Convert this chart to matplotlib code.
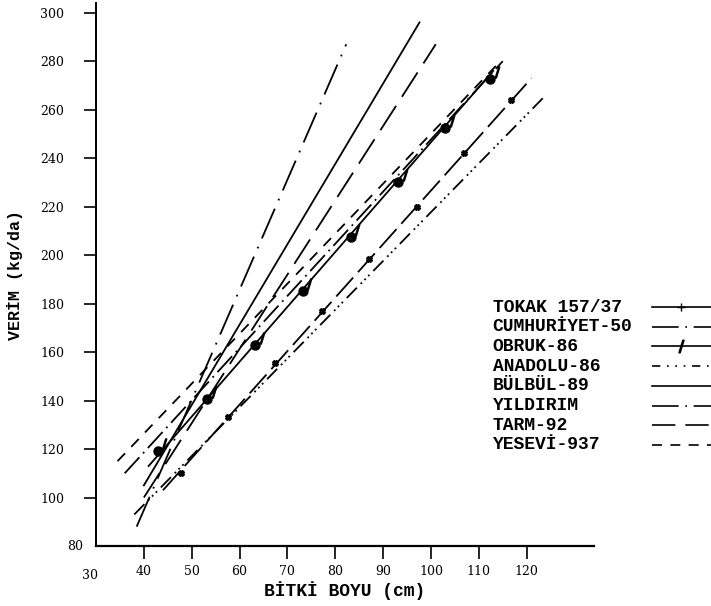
import numpy as np
import matplotlib.pyplot as plt

# regression lines, yield (kg/da) vs plant height (cm): end points
names = ["TOKAK 157/37", "CUMHURİYET-50", "OBRUK-86", "ANADOLU-86",
         "BÜLBÜL-89", "YILDIRIM", "TARM-92", "YESEVİ-937"]
x_start = [44.0, 36.0, 41.0, 38.0, 40.0, 38.5, 40.0, 34.5]
x_end = [121.0, 115.0, 113.0, 124.0, 97.6, 82.3, 101.0, 114.5]
y_start = [103.0, 110.0, 113.0, 93.0, 105.0, 88.0, 100.0, 115.0]
y_end = [273.0, 280.0, 276.0, 266.0, 296.0, 287.0, 287.0, 280.0]

# marked points
plus_x = [47.7, 57.6, 67.4, 77.2, 87.0, 97.0, 106.8, 116.8]
plus_y = [110.0, 133.4, 155.5, 177.0, 198.5, 220.0, 242.0, 264.0]
dot_x = [43.0, 53.3, 63.3, 73.3, 83.2, 93.2, 103.0, 112.4]
dot_y = [119.0, 140.5, 163.0, 185.0, 207.5, 230.0, 252.5, 272.5]

styles = [
    dict(ls=(0, (14, 4))),
    dict(ls=(0, (12, 3, 1, 3))),
    dict(ls="-"),
    dict(ls=(0, (8, 3, 1, 2, 1, 2, 1, 3))),
    dict(ls="-"),
    dict(ls=(0, (18, 5, 1, 5))),
    dict(ls=(0, (16, 6))),
    dict(ls=(0, (6, 5))),
]
# legend samples as printed in the key
key_styles = [
    dict(ls="-", marker="+", markevery=[1], ms=6),
    dict(ls=(0, (16, 4, 1, 4)), marker=None),
    dict(ls="-", marker="$/$", markevery=[1], ms=9),
    dict(ls=(0, (5, 4, 1, 4, 1, 4, 1, 4)), marker=None),
    dict(ls="-", marker=None),
    dict(ls=(0, (16, 4, 1, 4)), marker=None),
    dict(ls=(0, (14, 6)), marker=None),
    dict(ls=(0, (6, 5)), marker=None),
]

fig = plt.figure(figsize=(7.11, 6.06), dpi=100)
ax = fig.add_axes([0.135, 0.099, 0.70, 0.896])

for i in range(len(names)):
    ax.plot([x_start[i], x_end[i]], [y_start[i], y_end[i]], color="black",
            lw=1.3, **styles[i])

ax.plot(plus_x, plus_y, ls="none", marker="X", ms=4, color="black")
ax.plot(dot_x, dot_y, ls="none", marker="o", ms=6.5, color="black")
ax.plot(np.array(dot_x) + 1.3, np.array(dot_y) + 3, ls="none", marker="$/$",
        ms=8, color="black")

ax.set_xlim(30, 134)
ax.set_ylim(80, 304)
ax.set_xticks(range(40, 130, 10))
ax.set_yticks(range(100, 320, 20))
ax.spines["top"].set_visible(False)
ax.spines["right"].set_visible(False)
ax.spines["left"].set_linewidth(1.4)
ax.spines["bottom"].set_linewidth(1.6)
ax.tick_params(axis="x", direction="out", length=9, width=1.2, labelsize=9, pad=5)
ax.tick_params(axis="y", direction="out", length=9, width=1.2, labelsize=9, pad=14)
for lab in ax.get_xticklabels() + ax.get_yticklabels():
    lab.set_family("DejaVu Serif")
ax.text(-0.025, 0.0, "80", transform=ax.transAxes, family="DejaVu Serif", fontsize=9,
        ha="right", va="center")
ax.text(-0.012, -0.043, "30", transform=ax.transAxes, family="DejaVu Serif", fontsize=9,
        ha="center", va="top")

ax.set_xlabel("BİTKİ BOYU (cm)", family="Liberation Mono", fontsize=13,
              fontweight="bold", labelpad=2)
ax.set_ylabel("VERİM (kg/da)", family="Liberation Mono", fontsize=12,
              fontweight="bold", labelpad=12)

# hand-drawn key: names plus short line samples
for i, name in enumerate(names):
    yy = 1 - (307 + 19.7 * i) / 606
    fig.text(0.693, yy, name, family="Liberation Mono", fontsize=13,
             fontweight="bold", va="center")
    fig.add_artist(plt.Line2D([0.917, 0.9585, 1.0], [yy, yy, yy], color="black",
                              lw=1.2, transform=fig.transFigure, **key_styles[i]))

fig.savefig("out.png", dpi=100)
